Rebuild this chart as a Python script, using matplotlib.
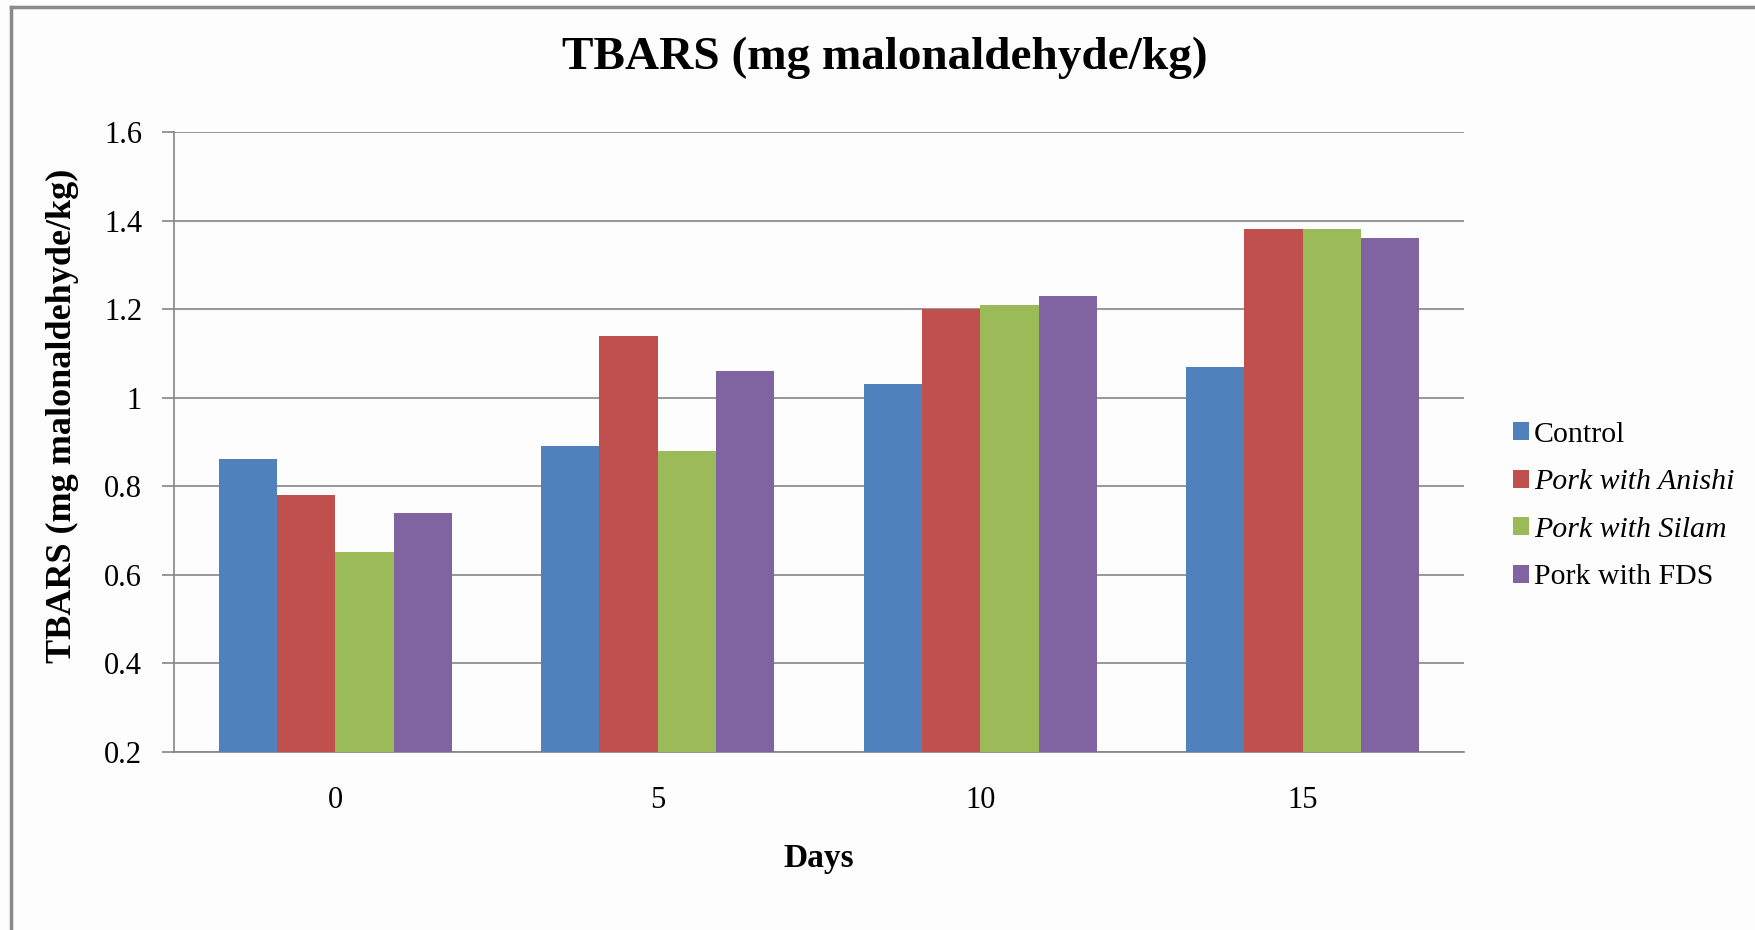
import numpy as np
import matplotlib.pyplot as plt
from matplotlib.lines import Line2D

# TBARS values per storage day for each treatment
days = ['0', '5', '10', '15']
control = [0.86, 0.89, 1.03, 1.07]
anishi = [0.78, 1.14, 1.20, 1.38]
silam = [0.65, 0.88, 1.21, 1.38]
fds = [0.74, 1.06, 1.23, 1.36]

series = [control, anishi, silam, fds]
labels = ['Control', 'Pork with Anishi', 'Pork with Silam', 'Pork with FDS']
italic = [False, True, True, False]
colors = ['#4F81BD', '#C0504D', '#9BBB59', '#8064A2']
yticks = [0.2, 0.4, 0.6, 0.8, 1.0, 1.2, 1.4, 1.6]
ytick_labels = ['0.2', '0.4', '0.6', '0.8', '1', '1.2', '1.4', '1.6']

plt.rcParams['font.family'] = ['Liberation Serif', 'DejaVu Serif']
grid_c = '#868686'

fig = plt.figure(figsize=(17.56, 9.3), dpi=100)
fig.patch.set_facecolor('#fdfdfd')
ax = fig.add_axes([0.0991, 0.1919, 0.7346, 0.6661])
ax.set_facecolor('#fdfdfd')

x = np.arange(len(days))
w = 0.181
offsets = (np.arange(4) - 1.5) * w
handles = []
for vals, off, c, lab in zip(series, offsets, colors, labels):
    bars = ax.bar(x + off, np.array(vals) - 0.2, w, bottom=0.2, color=c,
                  label=lab, zorder=3)
    handles.append(bars)

ax.set_xlim(-0.5, 3.5)
ax.set_ylim(0.2, 1.6)
ax.set_yticks(yticks)
ax.set_yticklabels(ytick_labels, fontsize=22)
ax.set_xticks(x)
ax.set_xticklabels(days, fontsize=22)
ax.yaxis.grid(True, color=grid_c, linewidth=1.2, zorder=0)
ax.tick_params(axis='y', length=9, width=1.2, color=grid_c, pad=14)
ax.tick_params(axis='x', length=0, pad=25)
for s in ['top', 'right']:
    ax.spines[s].set_visible(False)
ax.spines['left'].set_color(grid_c)
ax.spines['left'].set_linewidth(1.2)
ax.spines['bottom'].set_color(grid_c)
ax.spines['bottom'].set_linewidth(1.2)

ax.set_xlabel('Days', fontsize=24, fontweight='bold', labelpad=20)
ax.set_ylabel('TBARS (mg malonaldehyde/kg)', fontsize=26, fontweight='bold')
ax.yaxis.set_label_coords(-0.074, 0.542)
fig.text(0.504, 0.938, 'TBARS (mg malonaldehyde/kg)', ha='center', va='center',
         fontsize=34, fontweight='bold')

leg = ax.legend(handles=handles, loc='center left', bbox_to_anchor=(1.017, 0.396),
                frameon=False, fontsize=21.5, handlelength=0.55,
                handleheight=0.55, handletextpad=0.15, labelspacing=0.72)
for txt, it in zip(leg.get_texts(), italic):
    if it:
        txt.set_fontstyle('italic')

# partial frame along left and top edges
fig.add_artist(Line2D([0.0063, 0.0063], [0, 0.9925], color='#8a8a8a', lw=2.5,
                      transform=fig.transFigure))
fig.add_artist(Line2D([0.0063, 1.0], [0.9925, 0.9925], color='#8a8a8a', lw=2.5,
                      transform=fig.transFigure))

fig.savefig('out.png', dpi=100, facecolor=fig.get_facecolor())
